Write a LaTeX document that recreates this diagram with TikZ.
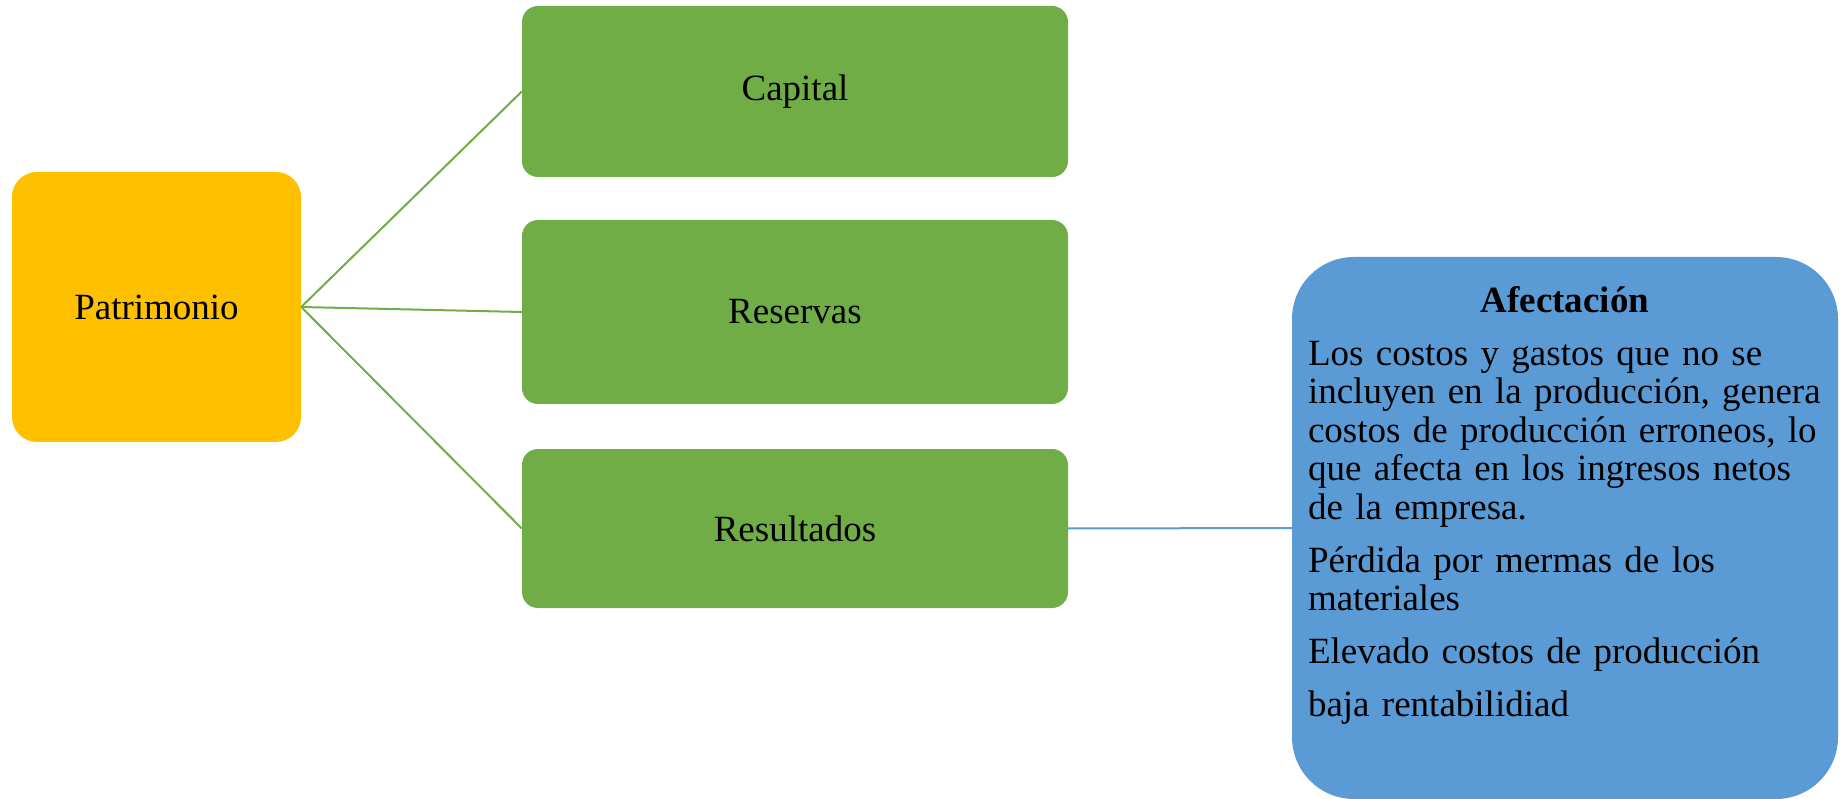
\documentclass[tikz,border=0pt]{standalone}
\usepackage{fontspec}
\setmainfont{Liberation Serif}
\usepackage{xcolor}
\usetikzlibrary{calc}

\definecolor{patrimoniocol}{HTML}{FFC000}
\definecolor{ramacol}{HTML}{70AD47}
\definecolor{afectacol}{HTML}{5B9BD5}

\tikzset{
    texto/.style = {font=\fontsize{37}{38.5}\selectfont, text=black},
    rama/.style = {texto, fill=ramacol, rounded corners=16pt,
        minimum width=546pt, inner sep=0pt},
    enlace/.style = {draw=ramacol, line width=2pt},
    enlaceazul/.style = {draw=afectacol, line width=2pt}
}

\begin{document}
\begin{tikzpicture}[x=1pt, y=-1pt]
    \useasboundingbox (0,0) rectangle (1845,799);

    \node[texto, fill=patrimoniocol, rounded corners=25pt,
        minimum width=289pt, minimum height=270pt, inner sep=0pt
        ] (patrimonio) at (156.5,307) {Patrimonio};

    \node[rama, minimum height=171pt] (capital) at (795,91.5) {Capital};
    \node[rama, minimum height=184pt] (reservas) at (795,312) {Reservas};
    \node[rama, minimum height=159pt] (resultados) at (795,528.5) {Resultados};

    \draw[enlace] (patrimonio.east) -- (capital.west);     % rama superior
    \draw[enlace] (patrimonio.east) -- (reservas.west);
    \draw[enlace] (patrimonio.east) -- (resultados.west);  % rama inferior

    \node[fill=afectacol, rounded corners=62pt,
        minimum width=546pt, minimum height=542pt
        ] (afectacion) at (1565,528) {};
    \node[texto, anchor=north west, text width=530pt, align=left, inner sep=0pt
        ] (detalle) at ($(afectacion.north west)+(16,29)$) {%
        \setlength{\parskip}{14.5pt}%
        \hspace*{-16pt}\makebox[546pt]{\bfseries Afectación}\par
        Los costos y gastos que no se\\
        incluyen en la producción, genera\\
        costos de producción erroneos, lo\\
        que afecta en los ingresos netos\\
        de la empresa.\par
        Pérdida por mermas de los\\
        materiales\par
        Elevado costos de producción\par
        baja rentabilidiad};

    \draw[enlaceazul] (resultados.east) -- (afectacion.west);
\end{tikzpicture}
\end{document}
